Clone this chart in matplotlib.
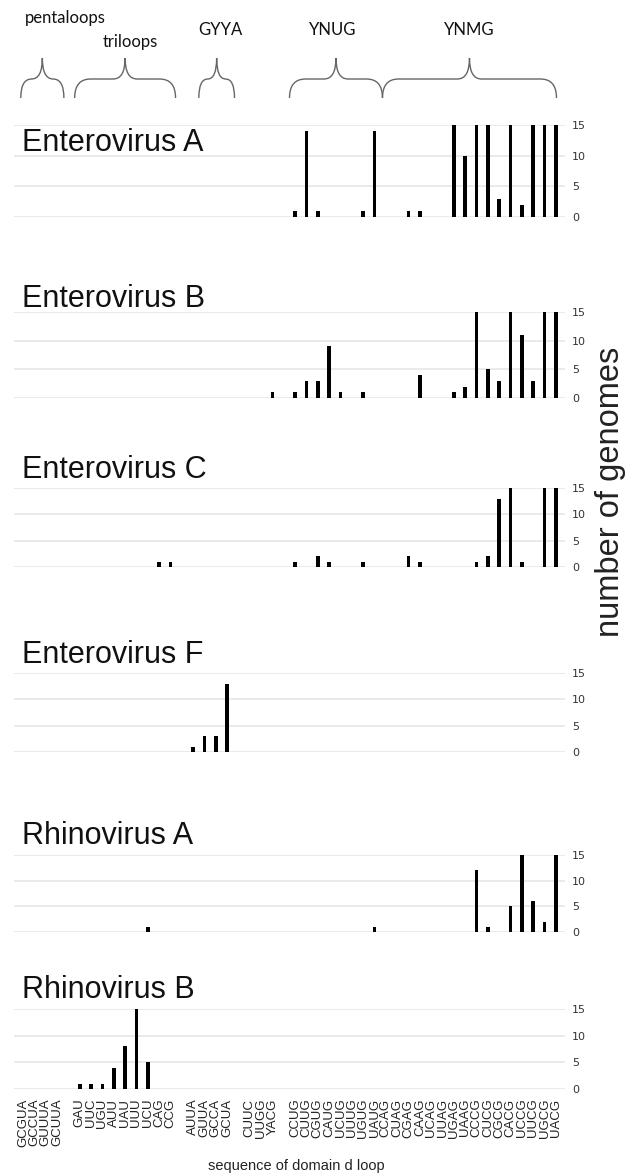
import numpy as np
import matplotlib
matplotlib.use("Agg")
import matplotlib.pyplot as plt
from matplotlib.path import Path
from matplotlib.patches import PathPatch
import matplotlib.transforms as mtransforms

# loop sequences, '' marks the empty slot between groups
penta = ['GCGUA', 'GCCUA', 'GUUUA', 'GCUUA']
tri = ['GAU', 'UUC', 'UGU', 'AUU', 'UAU', 'UUU', 'UCU', 'CAG', 'CCG']
gyya = ['AUUA', 'GUUA', 'GCCA', 'GCUA']
other = ['CUUC', 'UUGG', 'YACG']
ynug = ['CCUG', 'CUUG', 'CGUG', 'CAUG', 'UCUG', 'UUUG', 'UGUG', 'UAUG']
ynmg = ['CCAG', 'CUAG', 'CGAG', 'CAAG', 'UCAG', 'UUAG', 'UGAG', 'UAAG',
        'CCCG', 'CUCG', 'CGCG', 'CACG', 'UCCG', 'UUCG', 'UGCG', 'UACG']
loops = penta + [''] + tri + [''] + gyya + [''] + other + [''] + ynug + ynmg

# number of genomes per loop (only non-zero entries)
ev_a = {'CCUG': 1, 'CUUG': 14, 'CGUG': 1, 'UGUG': 1, 'UAUG': 14, 'CGAG': 1,
        'CAAG': 1, 'UGAG': 15, 'UAAG': 10, 'CCCG': 15, 'CUCG': 15, 'CGCG': 3,
        'CACG': 15, 'UCCG': 2, 'UUCG': 15, 'UGCG': 15, 'UACG': 15}
ev_b = {'YACG': 1, 'CCUG': 1, 'CUUG': 3, 'CGUG': 3, 'CAUG': 9, 'UCUG': 1,
        'UGUG': 1, 'CAAG': 4, 'UGAG': 1, 'UAAG': 2, 'CCCG': 15, 'CUCG': 5,
        'CGCG': 3, 'CACG': 15, 'UCCG': 11, 'UUCG': 3, 'UGCG': 15, 'UACG': 15}
ev_c = {'CAG': 1, 'CCG': 1, 'CCUG': 1, 'CGUG': 2, 'CAUG': 1, 'UGUG': 1,
        'CGAG': 2, 'CAAG': 1, 'CCCG': 1, 'CUCG': 2, 'CGCG': 13, 'CACG': 15,
        'UCCG': 1, 'UGCG': 15, 'UACG': 15}
ev_f = {'AUUA': 1, 'GUUA': 3, 'GCCA': 3, 'GCUA': 13}
rv_a = {'UCU': 1, 'UAUG': 1, 'CCCG': 12, 'CUCG': 1, 'CACG': 5, 'UCCG': 15,
        'UUCG': 6, 'UGCG': 2, 'UACG': 15}
rv_b = {'GAU': 1, 'UUC': 1, 'UGU': 1, 'AUU': 4, 'UAU': 8, 'UUU': 15, 'UCU': 5}

viruses = ['Enterovirus A', 'Enterovirus B', 'Enterovirus C',
           'Enterovirus F', 'Rhinovirus A', 'Rhinovirus B']
counts = [ev_a, ev_b, ev_c, ev_f, rv_a, rv_b]

groups = ['pentaloops', 'triloops', 'GYYA', 'YNUG', 'YNMG']

W, H = 634, 1176
fig = plt.figure(figsize=(W / 100, H / 100), dpi=100)
fig.patch.set_facecolor('white')

# panel placement in pixels (top of 15 line, 0 line, title y)
panel_y = [(125, 217, 143), (312, 398, 299), (488, 567, 470),
           (673, 752, 655), (855, 932, 836), (1009, 1089, 990)]
ax_left, ax_right = 14, 565

x = np.arange(len(loops))
axes = []
for i, (name, d) in enumerate(zip(viruses, counts)):
    ytop, ybot, ytitle = panel_y[i]
    ax = fig.add_axes([ax_left / W, 1 - ybot / H, (ax_right - ax_left) / W,
                       (ybot - ytop) / H])
    vals = [d.get(s, 0) for s in loops]
    ax.bar(x, vals, width=0.33, color='black', zorder=3, clip_on=False)
    ax.set_xlim(-0.8, len(loops) - 0.2)
    ax.set_ylim(0, 15)
    ax.set_yticks([0, 5, 10, 15])
    ax.yaxis.tick_right()
    ax.tick_params(axis='y', length=0, pad=5, labelsize=8, labelcolor='#333333')
    ax.grid(axis='y', color='#e4e4e4', linewidth=1.1, zorder=0)
    for sp in ax.spines.values():
        sp.set_visible(False)
    if i == len(viruses) - 1:
        ax.set_xticks(x)
        ax.set_xticklabels(loops, rotation=90, fontsize=9.5,
                           family='Liberation Sans', color='#222222')
        ax.tick_params(axis='x', length=0, pad=7)
    else:
        ax.set_xticks([])
    fig.text(22 / W, 1 - ytitle / H, name, fontsize=22, family='Liberation Sans',
             va='center', ha='left', color='#111111')
    axes.append(ax)

fig.text(296 / W, 1 - 1166 / H, 'sequence of domain d loop', fontsize=10.5,
         family='Liberation Sans', ha='center', va='center', color='#222222')
fig.text(611 / W, 1 - 492 / H, 'number of genomes', fontsize=23.5, rotation=90,
         family='Liberation Sans', ha='center', va='center', color='#222222')


# curly brace drawn in display pixels, x given in slot units of the panel
def brace(ax, xa, xb, ytop, ymid, ybot):
    xa_d = ax.transData.transform((xa, 0))[0]
    xb_d = ax.transData.transform((xb, 0))[0]
    xc = (xa_d + xb_d) / 2
    yt, ym, yb = H - ytop, H - ymid, H - ybot
    r = min(16, (xb_d - xa_d) / 4)
    rc = min(12, (xb_d - xa_d) / 4)
    verts = [(xa_d, yb), (xa_d, ym), (xa_d + r, ym),
             (xc - rc, ym), (xc, ym), (xc, yt),
             (xc, ym), (xc + rc, ym),
             (xb_d - r, ym), (xb_d, ym), (xb_d, yb)]
    codes = [Path.MOVETO, Path.CURVE3, Path.CURVE3,
             Path.LINETO, Path.CURVE3, Path.CURVE3,
             Path.CURVE3, Path.CURVE3,
             Path.LINETO, Path.CURVE3, Path.CURVE3]
    p = PathPatch(Path(verts, codes), transform=mtransforms.IdentityTransform(),
                  fill=False, edgecolor='#666666', linewidth=1.0)
    fig.add_artist(p)


# slot ranges of each brace and label position (pixels)
brace_spans = [(-0.2, 3.6), (4.55, 13.45), (15.5, 18.65), (23.5, 31.7), (31.7, 47.05)]
label_pos = [(65, 18), (130, 42), (220, 30), (333, 30), (469, 30)]

fig.canvas.draw()
for (xa, xb) in brace_spans:
    brace(axes[0], xa, xb, 58, 79, 98)
for g, (lx, ly) in zip(groups, label_pos):
    fig.text(lx / W, 1 - ly / H, g, fontsize=12, family='Lato',
             ha='center', va='center', color='#111111')

fig.savefig('out.png', dpi=100, facecolor='white')
